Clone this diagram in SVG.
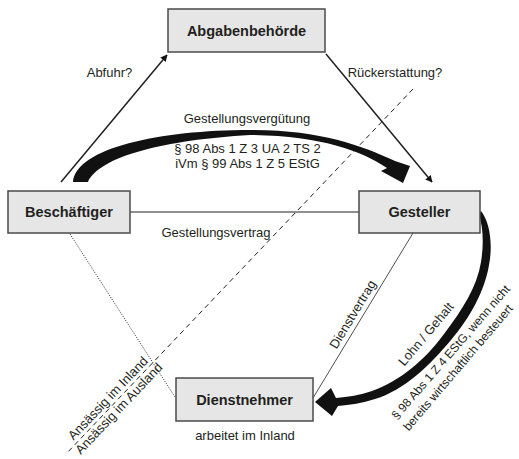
<svg xmlns="http://www.w3.org/2000/svg" width="519" height="459" viewBox="0 0 519 459">
<defs>
<style>
.box{fill:#e6e6e6;stroke:#4a4a4a;stroke-width:1.5}
.bl{font-family:"Liberation Sans",Arial,sans-serif;font-weight:bold;font-size:14.5px;fill:#231f20;text-anchor:middle}
.t{font-family:"Liberation Sans",Arial,sans-serif;font-size:13px;fill:#231f20;text-anchor:middle}
.s{font-size:12px}
.ln{stroke:#231f20;fill:none}
.fill{fill:#111;stroke:none}
</style>
<marker id="ah" viewBox="0 0 10 10" refX="9" refY="5" markerWidth="7" markerHeight="7" markerUnits="userSpaceOnUse" orient="auto">
<path d="M0,0 L10,5 L0,10 Z" fill="#111"/>
</marker>
</defs>
<rect width="519" height="459" fill="#fff"/>
<g id="connectors">
<line class="ln" x1="61" y1="182" x2="167" y2="55" stroke-width="1.5" marker-end="url(#ah)"/>
<line class="ln" x1="326" y1="54" x2="432" y2="182" stroke-width="1.5" marker-end="url(#ah)"/>
<line class="ln" x1="130" y1="212" x2="359" y2="212" stroke-width="1" stroke="#444"/>
<line class="ln" x1="413" y1="233" x2="313" y2="398" stroke-width="0.8"/>
<line class="ln" x1="413" y1="89" x2="66" y2="454" stroke-width="1" stroke-dasharray="5,4"/>
<line class="ln" x1="70" y1="234" x2="175" y2="397" stroke-width="1" stroke-dasharray="1,1.5"/>
<path class="fill" d="M73,182 C76,148 160,130 250,130 C320,130 360,145 395,161 L410,166 L403,183 L381,171 L387,168 C360,150 320,136 250,135 C165,140 100,156 88,182 Z"/>
<path class="fill" d="M481,211 C490,222 493,245 489,265 C485,290 470,318 451,340 C430,365 405,390 375,399 C362,403 350,405 338,406 L332,416 L315,402 L331,388 L336,398 C348,397 360,395 372,391 C400,381 425,360 444,334 C462,310 477,287 481,262 C484,243 483,228 479,214 Z"/>
<text class="t" x="109.5" y="77">Abfuhr?</text>
<text class="t" x="395" y="77">Rückerstattung?</text>
<text class="t" x="247" y="123">Gestellungsvergütung</text>
<text class="t" x="247.5" y="153">§ 98 Abs 1 Z 3 UA 2 TS 2</text>
<text class="t" x="247.5" y="168">iVm § 99 Abs 1 Z 5 EStG</text>
<text class="t" x="216" y="237">Gestellungsvertrag</text>
<text class="t" transform="translate(360.7,319.3) rotate(-58.8)" x="0" y="-5">Dienstvertrag</text>
<text class="t" transform="translate(427,335) rotate(-50)" x="0" y="3">Lohn / Gehalt</text>
<text class="t s" transform="translate(447,349) rotate(-49)" x="0" y="9">§ 98 Abs 1 Z 4 EStG, wenn nicht</text>
<text class="t s" transform="translate(455,365) rotate(-49.5)" x="0" y="8">bereits wirtschaftlich besteuert</text>
<text class="t" transform="translate(114,404) rotate(-46.5)" x="0" y="-4">Ansässig im Inland</text>
<text class="t" transform="translate(114,404) rotate(-46.5)" x="0" y="11">Ansässig im Ausland</text>
</g>
<g id="abgabenbehoerde">
<rect class="box" x="168" y="9" width="157" height="43"/>
<text class="bl" x="246.5" y="36">Abgabenbehörde</text>
</g>
<g id="beschaeftiger">
<rect class="box" x="8" y="191" width="122" height="42"/>
<text class="bl" x="69" y="217">Beschäftiger</text>
</g>
<g id="gesteller">
<rect class="box" x="359" y="191" width="121" height="42"/>
<text class="bl" x="419.5" y="217">Gesteller</text>
</g>
<g id="dienstnehmer">
<rect class="box" x="176" y="378" width="137" height="43"/>
<text class="bl" x="244.5" y="405">Dienstnehmer</text>
<text class="t" x="245" y="440">arbeitet im Inland</text>
</g>
</svg>
